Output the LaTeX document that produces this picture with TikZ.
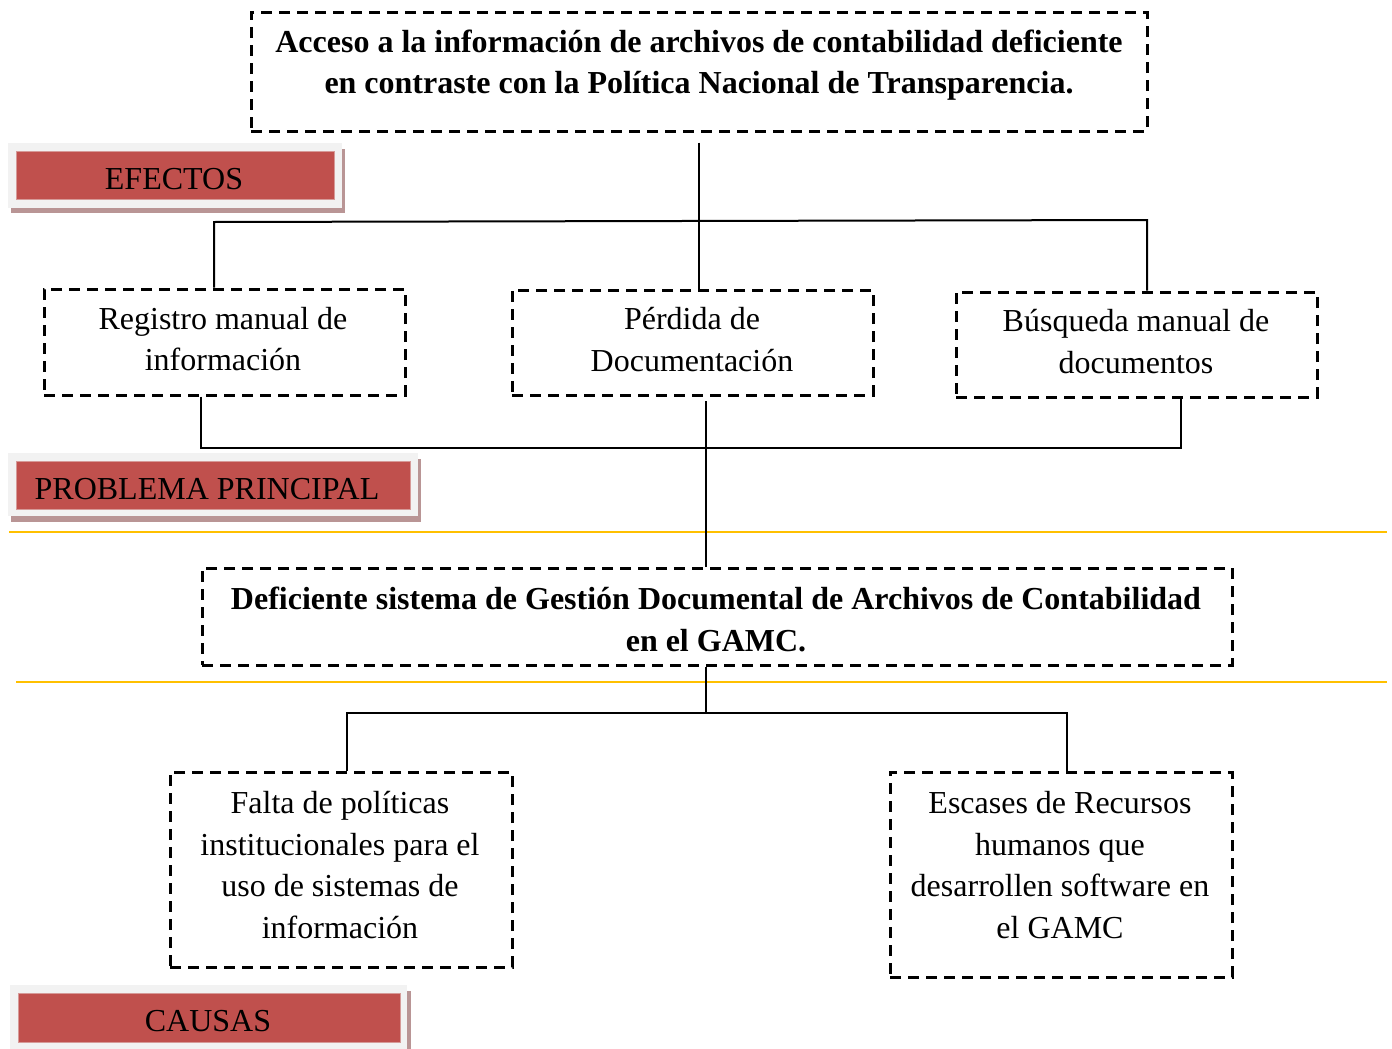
\documentclass[tikz,border=0pt]{standalone}
\usepackage{fontspec}
\setmainfont{Liberation Serif}
\usetikzlibrary{calc}
\definecolor{labred}{HTML}{C0504D}
\definecolor{labedge}{HTML}{D69A98}
\definecolor{labframe}{HTML}{F2F2F2}
\definecolor{labshadow}{HTML}{B99595}
\definecolor{sepyellow}{HTML}{FFC000}
\tikzset{
  dbox/.style={draw=black, line width=1.5pt, dash pattern=on 5.5pt off 3.5pt, inner sep=0pt},
  txt/.style={font=\fontsize{16}{20.75}\selectfont, align=center, inner sep=0pt},
  txtb/.style={txt, font=\fontsize{16}{20.75}\selectfont\bfseries},
  conn/.style={draw=black, line width=1pt},
  sep/.style={draw=sepyellow, line width=1.1pt},
  labtxt/.style={font=\fontsize{16}{20}\selectfont, inner sep=0pt},
}
\begin{document}
\begin{tikzpicture}[x=0.5pt, y=-0.5pt]
\useasboundingbox (0,0) rectangle (1392,1049);

% section labels
\fill[labshadow] (11,149) rectangle (345,213);
\fill[labframe] (8,143) rectangle (342,208);
\filldraw[fill=labred, draw=labedge, line width=0.4pt] (16,151) rectangle (334,199);
\node[labtxt] (efectos) at (174,179) {EFECTOS};

\fill[labshadow] (11,459) rectangle (421,522);
\fill[labframe] (8,453) rectangle (418,516);
\filldraw[fill=labred, draw=labedge, line width=0.4pt] (16,461) rectangle (410,509);
\node[labtxt] (principal) at (207,489) {PROBLEMA PRINCIPAL};

\fill[labshadow] (13,991) rectangle (411,1049);
\fill[labframe] (10,985) rectangle (407,1049);
\filldraw[fill=labred, draw=labedge, line width=0.4pt] (18,993) rectangle (400,1042);
\node[labtxt] (causas) at (208,1021) {CAUSAS};

% separators
\draw[sep] (9,532) -- (1387,532);
\draw[sep] (16,682) -- (1387,682);

% boxes
\node[dbox, minimum width=448pt, minimum height=59.5pt] (top) at (699,71.5) {};
\node[txtb] (toptxt) at (699,65) {Acceso a la información de archivos de contabilidad deficiente\\en contraste con la Política Nacional de Transparencia.};

\node[dbox, minimum width=180.5pt, minimum height=53pt] (reg) at (224.5,342) {};
\node[txt] (regtxt) at (223,339) {Registro manual de\\información};

\node[dbox, minimum width=180.5pt, minimum height=52.5pt] (perd) at (692.5,342.5) {};
\node[txt] (perdtxt) at (692,339.5) {Pérdida de\\Documentación};

\node[dbox, minimum width=180.5pt, minimum height=52.5pt] (bus) at (1136.5,344.5) {};
\node[txt] (bustxt) at (1136,341.5) {Búsqueda manual de\\documentos};

\node[dbox, minimum width=515pt, minimum height=48.5pt] (prob) at (717,616.5) {};
\node[txtb] (probtxt) at (716,619.5) {Deficiente sistema de Gestión Documental de Archivos de Contabilidad\\en el GAMC.};

\node[dbox, minimum width=171pt, minimum height=97.5pt] (falta) at (341,869.5) {};
\node[txt] (faltatxt) at (340,865) {Falta de políticas\\institucionales para el\\uso de sistemas de\\información};

\node[dbox, minimum width=171pt, minimum height=102.5pt] (esc) at (1061,874.5) {};
\node[txt] (esctxt) at (1060,865) {Escases de Recursos\\humanos que\\desarrollen software en\\el GAMC};

% connectors: effects
\draw[conn] ($(top.south)+(0,10)$) -- (top.south |- perd.north);
\coordinate (eL) at (214,222);
\coordinate (eR) at (1147,220);
\draw[conn] (eL |- reg.north) -- (eL) -- (eR) -- (eR |- bus.north);

\coordinate (cL) at (201,448);
\coordinate (cR) at (1181,448);
\draw[conn] (reg.south -| cL) -- (cL) -- (cR) -- (bus.south -| cR);
\coordinate (mid) at (706,401);
\draw[conn] (mid) -- (mid |- prob.north);

% connectors: causes
\coordinate (pc) at (706,713);
\draw[conn] (pc |- prob.south) -- (pc);
\coordinate (kL) at (347,713);
\coordinate (kR) at (1067,713);
\draw[conn] (kL |- falta.north) -- (kL) -- (kR) -- (kR |- esc.north);
\end{tikzpicture}
\end{document}
